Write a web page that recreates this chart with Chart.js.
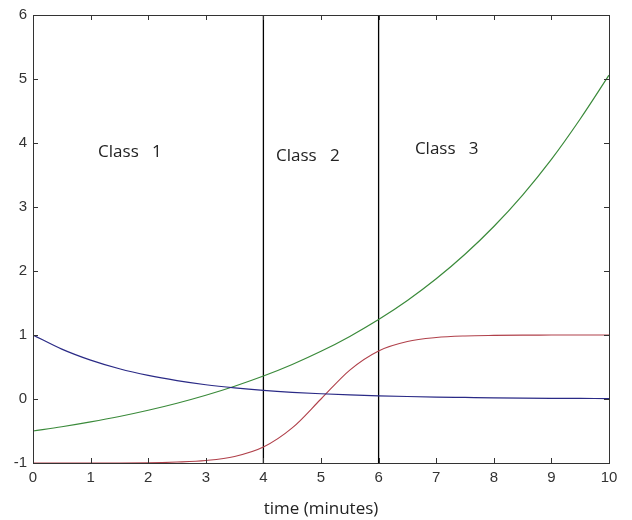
<!DOCTYPE html>
<html>
<head>
<meta charset="utf-8">
<script src="https://cdn.jsdelivr.net/npm/chart.js@4/dist/chart.umd.min.js"></script>
<style>
html,body{margin:0;padding:0;background:#fff;}
#wrap{width:632px;height:520px;}
</style>
</head>
<body>
<div id="wrap"><canvas id="c" width="632" height="520"></canvas></div>
<script>
// time points (minutes)
const times = [0,0.5,1,1.5,2,2.5,3,3.5,4,4.5,5,5.5,6,6.5,7,7.5,8,8.5,9,9.5,10];
// series values
const blueValues  = [1.0,0.779,0.607,0.472,0.368,0.287,0.223,0.174,0.135,0.105,0.082,0.064,0.050,0.039,0.030,0.024,0.018,0.014,0.011,0.009,0.007];
const greenValues = [-0.5,-0.434,-0.358,-0.273,-0.176,-0.066,0.059,0.200,0.359,0.540,0.745,0.978,1.241,1.539,1.878,2.261,2.695,3.187,3.744,4.375,5.06];
const redValues   = [-1.0,-1.0,-1.0,-1.0,-0.998,-0.985,-0.960,-0.898,-0.751,-0.452,0.0,0.452,0.751,0.898,0.960,0.985,0.994,0.998,0.999,1.0,1.0];
// class boundaries (vertical lines)
const boundaries = [4, 6];
// class labels with anchor in data coordinates
const classLabels = ["Class   1", "Class   2", "Class   3"];
const classLabelX = [1.13, 4.22, 6.63];
const classLabelY = [3.85, 3.80, 3.90];
// axis ticks
const xTicks = [0,1,2,3,4,5,6,7,8,9,10];
const yTicks = [-1,0,1,2,3,4,5,6];
const xTitle = "time (minutes)";

const toPts = (ys) => times.map((t, i) => ({x: t, y: ys[i]}));

const datasets = [
  {data: toPts(blueValues), borderColor: '#2a2a86', borderWidth: 1.2},
  {data: toPts(greenValues), borderColor: '#3a8a3a', borderWidth: 1.2},
  {data: toPts(redValues), borderColor: '#b0404a', borderWidth: 1.1}
].map(d => Object.assign(d, {pointRadius: 0, tension: 0, cubicInterpolationMode: 'monotone', fill: false}));

boundaries.forEach(b => datasets.push({
  data: [{x: b, y: yTicks[0]}, {x: b, y: yTicks[yTicks.length - 1]}],
  borderColor: '#000', borderWidth: 1.3, pointRadius: 0, fill: false
}));

const framePlugin = {
  id: 'frame',
  afterDatasetsDraw(chart) {
    const {ctx, chartArea: a, scales: {x, y}} = chart;
    ctx.save();
    ctx.strokeStyle = '#333';
    ctx.lineWidth = 1;
    ctx.strokeRect(Math.round(a.left) + 0.5, Math.round(a.top) + 0.5, Math.round(a.right - a.left), Math.round(a.bottom - a.top));
    const L = 5;
    ctx.beginPath();
    xTicks.forEach(v => {
      const px = Math.round(x.getPixelForValue(v)) + 0.5;
      ctx.moveTo(px, a.bottom); ctx.lineTo(px, a.bottom - L);
      ctx.moveTo(px, a.top); ctx.lineTo(px, a.top + L);
    });
    yTicks.forEach(v => {
      const py = Math.round(y.getPixelForValue(v)) + 0.5;
      ctx.moveTo(a.left, py); ctx.lineTo(a.left + L, py);
      ctx.moveTo(a.right, py); ctx.lineTo(a.right - L, py);
    });
    ctx.stroke();
    ctx.fillStyle = '#222';
    ctx.font = '17px "Open Sans"';
    ctx.textBaseline = 'middle';
    ctx.textAlign = 'left';
    classLabels.forEach((t, i) => {
      ctx.fillText(t, x.getPixelForValue(classLabelX[i]), y.getPixelForValue(classLabelY[i]));
    });
    ctx.restore();
  }
};

new Chart(document.getElementById('c'), {
  type: 'line',
  data: {datasets},
  plugins: [framePlugin],
  options: {
    responsive: false,
    animation: false,
    layout: {padding: {top: 12, right: 23, left: 0, bottom: 0}},
    plugins: {legend: {display: false}, tooltip: {enabled: false}},
    scales: {
      x: {
        type: 'linear', min: 0, max: 10,
        afterFit(s) { s.height = 57; },
        afterBuildTicks(s) { s.ticks = xTicks.map(v => ({value: v})); },
        grid: {display: false, drawTicks: false},
        border: {display: false},
        ticks: {padding: 6, color: '#333', font: {family: 'Liberation Sans', size: 15}, maxRotation: 0, autoSkip: false},
        title: {display: true, text: xTitle, color: '#222', font: {family: 'Open Sans', size: 17}, padding: {top: 0, bottom: 1}}
      },
      y: {
        type: 'linear', min: -1, max: 6,
        afterFit(s) { s.width = 33; },
        afterBuildTicks(s) { s.ticks = yTicks.map(v => ({value: v})); },
        grid: {display: false, drawTicks: false},
        border: {display: false},
        ticks: {padding: 6, color: '#333', font: {family: 'Liberation Sans', size: 15}, autoSkip: false}
      }
    }
  }
});
</script>
</body>
</html>
